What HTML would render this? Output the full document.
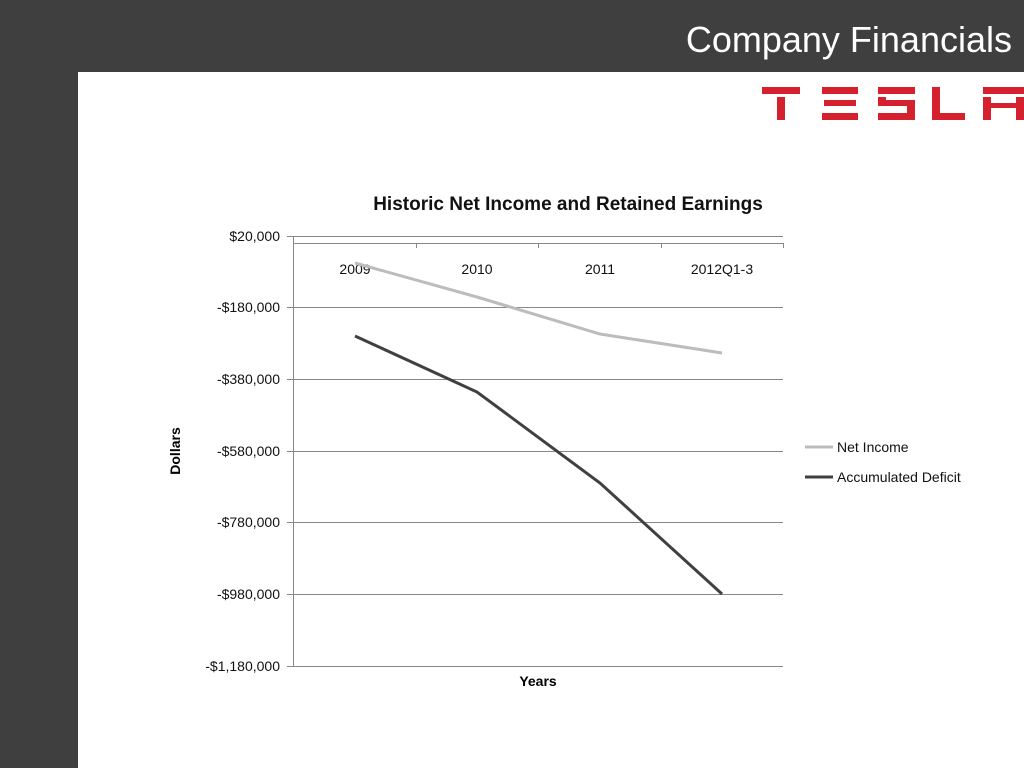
<!DOCTYPE html>
<html><head><meta charset="utf-8"><style>
body{margin:0;width:1024px;height:768px;background:#3f3f3f;position:relative;overflow:hidden;font-family:"Liberation Sans",sans-serif}
.white{position:absolute;left:78px;top:72px;width:946px;height:696px;background:#fff}
.title{position:absolute;right:12px;top:19px;color:#fff;font-size:36px;}
</style></head><body>
<div class="title">Company Financials</div>
<div class="white"></div>
<svg width="1024" height="768" style="position:absolute;left:0;top:0" font-family="Liberation Sans, sans-serif">
<title>TESLA</title>
<g fill="#d5212e">
<rect x="762" y="87" width="38" height="7"/><rect x="777" y="97" width="8" height="23"/>
<rect x="822" y="87" width="36" height="7"/><rect x="824" y="100" width="32" height="6"/><rect x="822" y="113" width="36" height="7"/>
<rect x="878" y="87" width="37" height="7"/><rect x="878" y="97" width="8" height="6"/><rect x="878" y="100" width="37" height="6"/><rect x="907" y="103" width="8" height="12"/><rect x="878" y="113" width="37" height="7"/>
<rect x="932" y="87" width="8" height="33"/><rect x="932" y="113" width="33" height="7"/>
<rect x="983" y="87" width="41" height="7"/><rect x="983" y="97" width="8" height="23"/><rect x="1016" y="97" width="8" height="23"/><rect x="991" y="103" width="25" height="5"/>
</g>
<text x="568" y="210" text-anchor="middle" font-size="19" font-weight="bold" fill="#111">Historic Net Income and Retained Earnings</text>
<g stroke="#888" stroke-width="1">
<line x1="287" y1="236.5" x2="783" y2="236.5"/>
<line x1="287" y1="307.5" x2="783" y2="307.5"/>
<line x1="287" y1="379.5" x2="783" y2="379.5"/>
<line x1="287" y1="451.5" x2="783" y2="451.5"/>
<line x1="287" y1="522.5" x2="783" y2="522.5"/>
<line x1="287" y1="594.5" x2="783" y2="594.5"/>
<line x1="287" y1="666.5" x2="783" y2="666.5"/>
<line x1="293.5" y1="236" x2="293.5" y2="666"/>
<line x1="293" y1="243.5" x2="783" y2="243.5"/>
<line x1="416.5" y1="243" x2="416.5" y2="248"/><line x1="538.5" y1="243" x2="538.5" y2="248"/><line x1="661.5" y1="243" x2="661.5" y2="248"/><line x1="783.5" y1="243" x2="783.5" y2="248"/>
</g>
<g font-size="14" fill="#111" text-anchor="end">
<text x="280" y="241">$20,000</text><text x="280" y="312">-$180,000</text><text x="280" y="384">-$380,000</text><text x="280" y="456">-$580,000</text><text x="280" y="527">-$780,000</text><text x="280" y="599">-$980,000</text><text x="280" y="671">-$1,180,000</text>
</g>
<g font-size="14" fill="#111" text-anchor="middle">
<text x="355" y="274">2009</text><text x="477" y="274">2010</text><text x="600" y="274">2011</text><text x="722" y="274">2012Q1-3</text>
</g>
<text x="538" y="686" text-anchor="middle" font-size="14" font-weight="bold">Years</text>
<text transform="translate(180,451) rotate(-90)" text-anchor="middle" font-size="14" font-weight="bold">Dollars</text>
<polyline points="355,263 477,297 600,334 722,353" fill="none" stroke="#bcbcbc" stroke-width="3"/>
<polyline points="355,336 477,392 600,483 722,594" fill="none" stroke="#404040" stroke-width="3"/>
<line x1="805" y1="447" x2="833" y2="447" stroke="#bcbcbc" stroke-width="3"/>
<line x1="805" y1="477" x2="833" y2="477" stroke="#404040" stroke-width="3"/>
<text x="837" y="452" font-size="14" fill="#111">Net Income</text>
<text x="837" y="482" font-size="14" fill="#111">Accumulated Deficit</text>
</svg>
</body></html>
